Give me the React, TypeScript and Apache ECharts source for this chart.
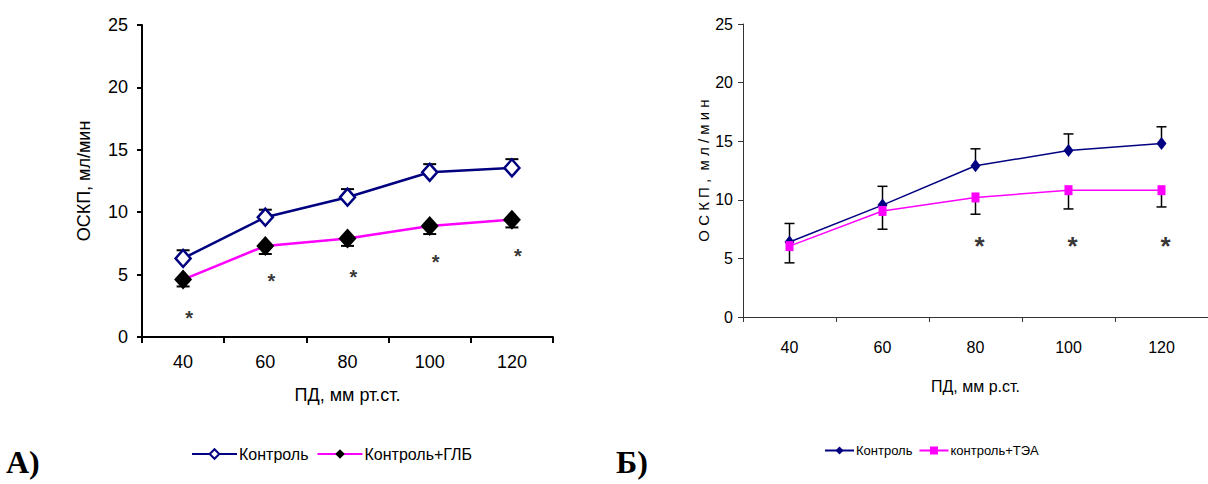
import React, { useEffect, useRef } from "react";
import * as echarts from "echarts";

const categories = ["40", "60", "80", "100", "120"];
// Chart A
const ctrlA = [6.3, 9.6, 11.2, 13.2, 13.55];
const ctrlAErr = [0.65, 0.6, 0.65, 0.65, 0.7];
const glb = [4.6, 7.3, 7.9, 8.9, 9.4];
const glbErr = [0.55, 0.65, 0.6, 0.65, 0.62];
const starsA = [1.9, 4.9, 5.2, 6.4, 6.9];
// Chart Б
const ctrlB = [6.4, 9.55, 12.9, 14.2, 14.8];
const ctrlBErr = [1.58, 1.6, 1.45, 1.42, 1.43];
const tea = [6.05, 9.05, 10.2, 10.82, 10.82];
const teaErr = [1.43, 1.56, 1.43, 1.6, 1.43];
const starsB = [null, null, 6.6, 6.6, 6.6];

const legendNames: Record<string, string> = {
  ctrlA: "Контроль",
  glb: "Контроль+ГЛБ",
  ctrlB: "Контроль",
  tea: "контроль+ТЭА",
};

const SANS = "'Liberation Sans', Arial, sans-serif";
const NARROW = "'Liberation Sans Narrow', 'Arial Narrow', 'Liberation Sans', Arial, sans-serif";

function errSeries(
  vals: number[],
  errs: number[],
  sign: number,
  xi: number,
  yi: number,
  lw: number,
  cap: number
) {
  return {
    type: "custom",
    xAxisIndex: xi,
    yAxisIndex: yi,
    z: 1,
    silent: true,
    data: vals.map((v, i) => [i, v, sign * errs[i]]),
    renderItem: (params: any, api: any) => {
      const x = api.value(0);
      const y = api.value(1);
      const e = api.value(2);
      const p0 = api.coord([x, y]);
      const p1 = api.coord([x, y + e]);
      const style = { stroke: "#000", lineWidth: lw };
      return {
        type: "group",
        children: [
          { type: "line", shape: { x1: p0[0], y1: p0[1], x2: p1[0], y2: p1[1] }, style },
          { type: "line", shape: { x1: p1[0] - cap, y1: p1[1], x2: p1[0] + cap, y2: p1[1] }, style },
        ],
      };
    },
  };
}

function starSeries(vals: (number | null)[], xi: number, yi: number, size: number, dx: number, dy: number) {
  return {
    type: "scatter",
    xAxisIndex: xi,
    yAxisIndex: yi,
    symbolSize: 1,
    silent: true,
    itemStyle: { color: "rgba(0,0,0,0)" },
    label: {
      show: true,
      position: "inside",
      formatter: "*",
      color: "#000",
      fontSize: size,
      fontWeight: "bold",
      fontFamily: SANS,
      offset: [dx, dy],
    },
    data: vals.map((v, i) => (v == null ? null : [i, v])).filter((d) => d !== null),
  };
}

export default function App() {
  const ref = useRef<HTMLDivElement>(null);
  useEffect(() => {
    document.body.style.margin = "0";
    const chart = echarts.init(ref.current!, undefined, { renderer: "svg" });
    const option: any = {
      animation: false,
      backgroundColor: "#fff",
      grid: [
        { left: 142, top: 25, width: 411, height: 312 },
        { left: 743, top: 24, width: 466, height: 293 },
      ],
      xAxis: [
        {
          gridIndex: 0,
          type: "category",
          data: categories,
          boundaryGap: true,
          name: "ПД, мм рт.ст.",
          nameLocation: "middle",
          nameGap: 49,
          nameTextStyle: { fontSize: 18, fontFamily: SANS, color: "#000" },
          axisLine: { lineStyle: { color: "#000", width: 2 } },
          axisTick: { show: true, length: 6, lineStyle: { color: "#000", width: 2 } },
          axisLabel: { margin: 16, fontSize: 18, fontFamily: SANS, color: "#000" },
          splitLine: { show: false },
        },
        {
          gridIndex: 1,
          type: "category",
          data: categories,
          boundaryGap: true,
          name: "ПД, мм р.ст.",
          nameLocation: "middle",
          nameGap: 61,
          nameTextStyle: { fontSize: 16, fontFamily: NARROW, color: "#000" },
          axisLine: { lineStyle: { color: "#333", width: 1 } },
          axisTick: { show: true, length: 5, lineStyle: { color: "#333", width: 1 } },
          axisLabel: { margin: 22, fontSize: 16, fontFamily: NARROW, color: "#000" },
          splitLine: { show: false },
        },
      ],
      yAxis: [
        {
          gridIndex: 0,
          type: "value",
          min: 0,
          max: 25,
          interval: 5,
          name: "ОСКП, мл/мин",
          nameLocation: "middle",
          nameGap: 49,
          nameTextStyle: { fontSize: 18, fontFamily: SANS, color: "#000" },
          axisLine: { show: true, lineStyle: { color: "#000", width: 2 } },
          axisTick: { show: true, length: 5, lineStyle: { color: "#000", width: 2 } },
          axisLabel: { margin: 14, fontSize: 18, fontFamily: SANS, color: "#000" },
          splitLine: { show: false },
        },
        {
          gridIndex: 1,
          type: "value",
          min: 0,
          max: 25,
          interval: 5,
          name: "О С К П ,  м л / м и н",
          nameLocation: "middle",
          nameGap: 31,
          nameTextStyle: { fontSize: 15, fontFamily: NARROW, color: "#000" },
          axisLine: { show: true, lineStyle: { color: "#333", width: 1 } },
          axisTick: { show: true, length: 5, lineStyle: { color: "#333", width: 1 } },
          axisLabel: { margin: 10, fontSize: 16, fontFamily: NARROW, color: "#000" },
          splitLine: { show: false },
        },
      ],
      legend: [
        {
          data: ["ctrlA", "glb"],
          formatter: (n: string) => legendNames[n],
          left: 186,
          top: 441,
          itemWidth: 45,
          itemHeight: 12,
          itemGap: 8,
          textStyle: { fontSize: 16, fontFamily: SANS, color: "#000", padding: [0, 0, 0, -3] },
        },
        {
          data: ["ctrlB", "tea"],
          formatter: (n: string) => legendNames[n],
          left: 819,
          top: 439,
          itemWidth: 29,
          itemHeight: 10,
          itemGap: 6,
          textStyle: { fontSize: 13, fontFamily: NARROW, color: "#000", padding: [0, 0, 0, -3] },
        },
      ],
      graphic: [
        {
          type: "text",
          left: 6,
          top: 446,
          style: { text: "А)", font: "bold 32px 'Liberation Serif', 'Times New Roman', serif", fill: "#000" },
        },
        {
          type: "text",
          left: 616,
          top: 446,
          style: { text: "Б)", font: "bold 32px 'Liberation Serif', 'Times New Roman', serif", fill: "#000" },
        },
      ],
      series: [
        errSeries(ctrlA, ctrlAErr, 1, 0, 0, 2, 6.5),
        errSeries(glb, glbErr, -1, 0, 0, 2, 6.5),
        {
          name: "ctrlA",
          type: "line",
          xAxisIndex: 0,
          yAxisIndex: 0,
          z: 3,
          data: ctrlA,
          symbol: "diamond",
          symbolSize: [15, 17],
          showAllSymbol: true,
          lineStyle: { color: "#000080", width: 2.5 },
          itemStyle: { color: "#fff", borderColor: "#000080", borderWidth: 2.5 },
        },
        {
          name: "glb",
          type: "line",
          xAxisIndex: 0,
          yAxisIndex: 0,
          z: 3,
          data: glb,
          symbol: "diamond",
          symbolSize: [18, 20],
          lineStyle: { color: "#ff00ff", width: 2.5 },
          itemStyle: { color: "#000", borderColor: "#000", borderWidth: 0 },
        },
        starSeries(starsA, 0, 0, 20, 6, 5),
        errSeries(ctrlB, ctrlBErr, 1, 1, 1, 1.5, 5),
        errSeries(tea, teaErr, -1, 1, 1, 1.5, 5),
        {
          name: "ctrlB",
          type: "line",
          xAxisIndex: 1,
          yAxisIndex: 1,
          z: 3,
          data: ctrlB,
          symbol: "diamond",
          symbolSize: [10, 13],
          lineStyle: { color: "#000080", width: 1.5 },
          itemStyle: { color: "#000080" },
        },
        {
          name: "tea",
          type: "line",
          xAxisIndex: 1,
          yAxisIndex: 1,
          z: 3,
          data: tea,
          symbol: "rect",
          symbolSize: [8, 10],
          lineStyle: { color: "#ff00ff", width: 1.5 },
          itemStyle: { color: "#ff00ff" },
        },
        starSeries(starsB, 1, 1, 26, 4, 6),
      ],
    };
    chart.setOption(option);
    return () => chart.dispose();
  }, []);
  return <div ref={ref} style={{ width: 1208, height: 484 }} />;
}
